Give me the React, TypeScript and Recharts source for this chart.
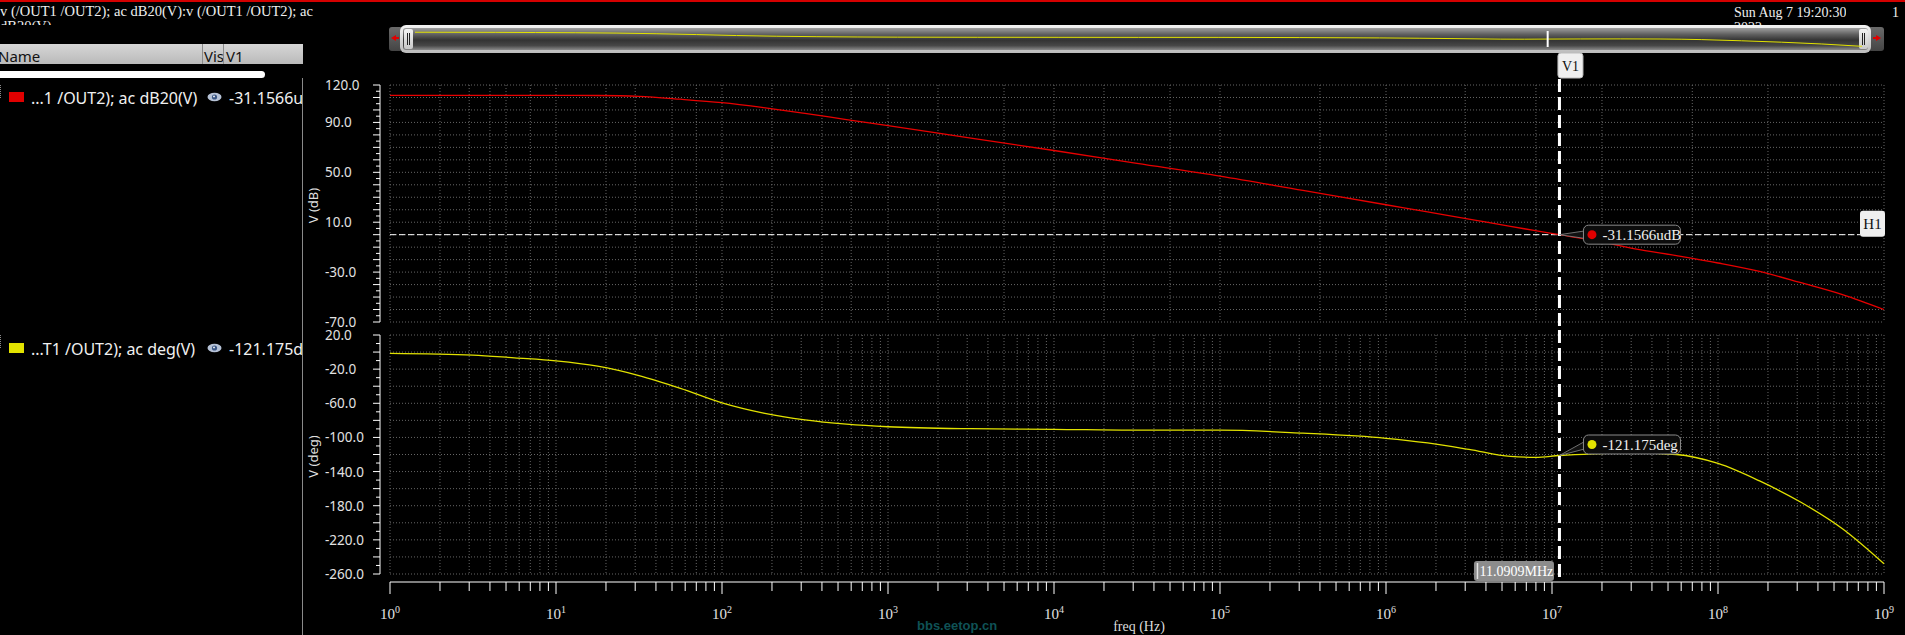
import React from 'react';
import {
  LineChart,
  Line,
  XAxis,
  YAxis,
  CartesianGrid,
  ReferenceLine,
  ReferenceDot,
} from 'recharts';

// sweep points (Hz)
const freqHz = [
  1, 3.16, 5.62, 10, 17.8, 31.6, 56.2, 100, 178, 316, 562, 1e3, 3.16e3, 1e4, 3.16e4, 1e5,
  3.16e5, 1e6, 1.78e6, 3.16e6, 5.62e6, 7.94e6, 1.10909e7, 1.78e7, 3.16e7, 5.62e7, 1e8,
  1.78e8, 3.16e8, 5.62e8, 1e9,
];

// v(/OUT1 /OUT2) ac dB20
const gainDb = [
  111.7, 111.7, 111.7, 111.7, 111.6, 110.9, 108.6, 105.8, 101.8, 97.2, 92.3, 87.5, 77.4, 67.5, 57.2, 47.0,
  35.5, 24.0, 18.2, 12.5, 6.6, 3.3, 0, -4.6, -11.3, -16.8, -22.7,
  -29.5, -38.5, -48.0, -60.0,
];

// v(/OUT1 /OUT2) ac phase
const phaseDeg = [
  -1.5, -3.5, -6.8, -10.3, -16.5, -27.5, -42.5, -59.5, -71.5, -79.5, -84.5, -87.5, -89.8, -90.5, -91.5, -91.5,
  -95, -101, -106.5, -114, -122.3, -123.3, -121.175, -119.3, -118.2, -120, -130.5,
  -151, -176, -207, -248,
];

// axis labels
const dbLabels = [120, 90, 50, 10, -30, -70];
const degLabels = [20, -20, -60, -100, -140, -180, -220, -260];

// cursors
const cursorFreq = 11.0909e6;
const cursorGain = -31.1566e-6;
const cursorPhase = -121.175;
const cursorFreqText = '11.0909MHz';
const cursorGainText = '-31.1566udB';
const cursorPhaseText = '-121.175deg';

const rows = freqHz.map((f, i) => ({ freq: f, gain: gainDb[i], phase: phaseDeg[i] }));

const steps = (lo: number, hi: number, step: number) => {
  const out: number[] = [];
  for (let v = lo; v <= hi + 1e-9; v += step) out.push(v);
  return out;
};

const freqTicks: number[] = [];
for (let k = 0; k < 9; k++) for (let m = 1; m <= 9; m++) freqTicks.push(m * 10 ** k);
freqTicks.push(1e9);

const SERIF = '"Liberation Serif", "DejaVu Serif", serif';
const SANS = '"Noto Sans", "DejaVu Sans", sans-serif';

const AXIS_X = 380;
const LABEL_X = 325;
const X_AXIS_Y = 252; // bottom chart local coords

const makeYTick = (labels: number[], majorStep: number) => (props: any) => {
  const { y, payload } = props;
  const v = payload.value;
  const major = Math.abs(v / majorStep - Math.round(v / majorStep)) < 1e-9;
  return (
    <g>
      <line x1={AXIS_X - (major ? 7 : 4)} x2={AXIS_X} y1={y} y2={y} stroke="#fff" />
      {labels.includes(v) && (
        <text x={LABEL_X} y={y} dominantBaseline="central" fill="#e2e2e2" fontFamily={SANS} fontSize={13.5}>
          {v.toFixed(1)}
        </text>
      )}
    </g>
  );
};

const YAxisDecor = (props: any) => {
  const { viewBox, text } = props;
  const { x, y, width, height } = viewBox;
  const lx = x - 17;
  const ly = y + height / 2 + 2;
  return (
    <g>
      <line x1={x + width - 10} x2={x + width - 10} y1={y} y2={y + height} stroke="#fff" />
      <text
        x={lx}
        y={ly}
        transform={`rotate(-90 ${lx} ${ly})`}
        textAnchor="middle"
        dominantBaseline="central"
        fill="#dedede"
        fontFamily={SANS}
        fontSize={13}
      >
        {text}
      </text>
    </g>
  );
};

const FreqTick = (props: any) => {
  const { x, payload } = props;
  const e = Math.log10(payload.value);
  const decade = Math.abs(e - Math.round(e)) < 1e-6;
  return (
    <g>
      <line x1={x} x2={x} y1={X_AXIS_Y} y2={X_AXIS_Y + (decade ? 12 : 9)} stroke="#fff" />
      {decade && (
        <text x={x} y={X_AXIS_Y + 37} textAnchor="middle" fill="#e0e0e0" fontFamily={SERIF} fontSize={15}>
          10
          <tspan dy={-6} fontSize={10}>
            {Math.round(e)}
          </tspan>
        </text>
      )}
    </g>
  );
};

const FreqAxisDecor = (props: any) => {
  const { x, width } = props.viewBox;
  return (
    <g>
      <line x1={x} x2={x + width} y1={X_AXIS_Y} y2={X_AXIS_Y} stroke="#fff" />
      <text
        x={x + width / 2 + 2}
        y={X_AXIS_Y + 44}
        textAnchor="middle"
        dominantBaseline="central"
        fill="#dcdcdc"
        fontFamily={SERIF}
        fontSize={14}
      >
        freq (Hz)
      </text>
    </g>
  );
};

const V1TopShape = (p: any) => {
  const x = p.x1;
  const top = Math.min(p.y1, p.y2);
  const bottom = Math.max(p.y1, p.y2);
  return (
    <g>
      <line x1={x} x2={x} y1={top - 6} y2={bottom + 13} stroke="#fff" strokeWidth={3} strokeDasharray="13 5" />
      <rect x={x - 1.5} y={top - 32} width={25} height={25} rx={3} fill="#efefef" stroke="#bdbdbd" />
      <text x={x + 11} y={top - 19} textAnchor="middle" dominantBaseline="central" fill="#111" fontFamily={SERIF} fontSize={14}>
        V1
      </text>
    </g>
  );
};

const V1BottomShape = (p: any) => {
  const x = p.x1;
  const top = Math.min(p.y1, p.y2);
  const bottom = Math.max(p.y1, p.y2);
  return (
    <g>
      <line x1={x} x2={x} y1={top - 5} y2={bottom + 7} stroke="#fff" strokeWidth={3} strokeDasharray="13 5" />
      <rect x={x - 85.5} y={bottom - 13} width={80} height={20} rx={3} fill="#8c8c8c" />
      <line x1={x - 82} x2={x - 82} y1={bottom - 11} y2={bottom + 5} stroke="#e4e4e4" strokeWidth={1.5} />
      <text x={x - 80} y={bottom - 2.5} dominantBaseline="central" fill="#fff" fontFamily={SERIF} fontSize={14}>
        {cursorFreqText}
      </text>
    </g>
  );
};

const H1Shape = (p: any) => {
  const left = Math.min(p.x1, p.x2);
  const right = Math.max(p.x1, p.x2);
  const y = p.y1;
  return (
    <g>
      <line x1={left} x2={right - 24} y1={y} y2={y} stroke="#fff" strokeDasharray="6 3" />
      <rect x={right - 24} y={y - 24} width={25} height={26} rx={3} fill="#efefef" />
      <text x={right - 11.5} y={y - 11} textAnchor="middle" dominantBaseline="central" fill="#111" fontFamily={SERIF} fontSize={15}>
        H1
      </text>
    </g>
  );
};

const markerBubble = (color: string, text: string, lift: number) => (p: any) => {
  const { cx, cy } = p;
  const by = cy - lift;
  const bx = cx + 24;
  return (
    <g>
      <path d={`M${cx},${cy} L${bx + 3},${by - 4} L${bx + 3},${by + 4} Z`} fill="#111" stroke="#8a8a8a" strokeWidth={0.8} />
      <rect x={bx} y={by - 9.5} width={97} height={19} rx={5} fill="#0c0c0c" stroke="#8a8a8a" />
      <circle cx={bx + 8.5} cy={by} r={4.5} fill={color} />
      <text x={bx + 19} y={by + 0.5} dominantBaseline="central" fill="#f0f0f0" fontFamily={SERIF} fontSize={15}>
        {text}
      </text>
    </g>
  );
};

const OverviewCursor = (p: any) => (
  <line x1={p.x1} x2={p.x1} y1={-2} y2={20} stroke="#fff" strokeWidth={2} />
);

const Eye = ({ top }: { top: number }) => (
  <svg style={{ position: 'absolute', left: 207, top }} width={15} height={10}>
    <ellipse cx={7.5} cy={5} rx={7} ry={4.2} fill="#b6c2d6" />
    <circle cx={7.5} cy={5} r={2.6} fill="#3a5684" />
    <circle cx={7} cy={4.4} r={0.9} fill="#fff" />
  </svg>
);

const txt = (extra: React.CSSProperties): React.CSSProperties => ({
  position: 'absolute',
  whiteSpace: 'pre',
  ...extra,
});

export default function App() {
  return (
    <div style={{ position: 'absolute', left: 0, top: 0, width: 1905, height: 635, background: '#000', overflow: 'hidden' }}>
      {/* window top edge */}
      <div style={{ position: 'absolute', left: 0, top: 0, width: 1905, height: 2, background: '#d40000' }} />

      {/* title + date (second lines are cut by the window, as on screen) */}
      <div style={txt({ left: 0, top: 4, width: 330, height: 21, overflow: 'hidden', fontFamily: SERIF, fontSize: 14.5, lineHeight: '15px', color: '#eee' })}>
        {'v (/OUT1 /OUT2); ac dB20(V):v (/OUT1 /OUT2); ac\ndB20(V)'}
      </div>
      <div style={txt({ left: 1734, top: 5, height: 21, overflow: 'hidden', fontFamily: SERIF, fontSize: 14, lineHeight: '15px', color: '#eee' })}>
        {'Sun Aug 7 19:20:30\n2022'}
      </div>
      <div style={txt({ left: 1892, top: 5, fontFamily: SERIF, fontSize: 14, lineHeight: '15px', color: '#eee' })}>1</div>

      {/* scroll / overview bar */}
      <div style={{ position: 'absolute', left: 389, top: 27, width: 14, height: 24, background: 'linear-gradient(#6a6a6a, #444)', borderRadius: 3 }} />
      <svg style={{ position: 'absolute', left: 390, top: 33 }} width={10} height={10}>
        <path d="M1,5 L6,2 L6,8 Z" fill="#e00000" />
        <rect x={6} y={4} width={3} height={2} fill="#e00000" />
      </svg>
      <div style={{ position: 'absolute', left: 1868, top: 27, width: 16, height: 24, background: 'linear-gradient(#6a6a6a, #444)', borderRadius: 3 }} />
      <svg style={{ position: 'absolute', left: 1872, top: 33 }} width={10} height={10}>
        <path d="M9,5 L4,2 L4,8 Z" fill="#e00000" />
        <rect x={1} y={4} width={3} height={2} fill="#e00000" />
      </svg>
      <div style={{ position: 'absolute', left: 400, top: 25, width: 1471, height: 28, borderRadius: 6, background: 'linear-gradient(#f4f4f4, #bcbcbc)' }} />
      <div
        style={{
          position: 'absolute',
          left: 403,
          top: 28,
          width: 1465,
          height: 22,
          borderRadius: 3,
          background: 'linear-gradient(#a0a0a0 0%, #5e5e5e 30%, #333 55%, #474747 80%, #8a8a8a 100%)',
        }}
      />
      <div style={{ position: 'absolute', left: 404, top: 29, width: 9, height: 20, borderRadius: 2, background: 'linear-gradient(#f2f2f2, #c8c8c8)' }} />
      <div style={{ position: 'absolute', left: 407, top: 33, width: 1, height: 12, background: '#222' }} />
      <div style={{ position: 'absolute', left: 409, top: 33, width: 1, height: 12, background: '#222' }} />
      <div style={{ position: 'absolute', left: 1859, top: 29, width: 9, height: 20, borderRadius: 2, background: 'linear-gradient(#f2f2f2, #c8c8c8)' }} />
      <div style={{ position: 'absolute', left: 1862, top: 33, width: 1, height: 12, background: '#222' }} />
      <div style={{ position: 'absolute', left: 1864, top: 33, width: 1, height: 12, background: '#222' }} />
      <div style={{ position: 'absolute', left: 415, top: 31 }}>
        <LineChart width={1447} height={16} data={rows} margin={{ top: 0, right: 0, bottom: 0, left: 0 }}>
          <XAxis dataKey="freq" type="number" scale="log" domain={[1, 1e9]} hide />
          <YAxis type="number" domain={[-260, 20]} hide />
          <Line dataKey="phase" type="monotone" stroke="#e2e200" strokeWidth={1} dot={false} isAnimationActive={false} />
          <ReferenceLine x={cursorFreq} shape={OverviewCursor} />
        </LineChart>
      </div>

      {/* browser panel */}
      <div style={{ position: 'absolute', left: 0, top: 44, width: 303, height: 20, background: 'linear-gradient(#d6d6d6, #bababa)', overflow: 'hidden' }}>
        <div style={txt({ left: -2, top: 0, fontFamily: SANS, fontSize: 15, lineHeight: '24px', color: '#111' })}>Name</div>
        <div style={{ position: 'absolute', left: 202, top: 0, width: 1, height: 20, background: '#8a8a8a' }} />
        <div style={{ position: 'absolute', left: 203, top: 0, width: 20, height: 20, overflow: 'hidden' }}>
          <div style={txt({ left: 1, top: 0, fontFamily: SANS, fontSize: 15, lineHeight: '24px', color: '#111' })}>Vis</div>
        </div>
        <div style={{ position: 'absolute', left: 223, top: 0, width: 1, height: 20, background: '#8a8a8a' }} />
        <div style={txt({ left: 226, top: 0, fontFamily: SANS, fontSize: 15, lineHeight: '24px', color: '#111' })}>V1</div>
      </div>
      <div style={{ position: 'absolute', left: 0, top: 71, width: 265, height: 7, background: '#fff', borderRadius: '0 4px 4px 0' }} />

      <div style={{ position: 'absolute', left: 0, top: 85, width: 1, height: 13, borderLeft: '1px dotted #888' }} />
      <div style={{ position: 'absolute', left: 9, top: 92, width: 15, height: 10, background: '#e00000' }} />
      <div style={txt({ left: 31, top: 87, fontFamily: SANS, fontSize: 16, lineHeight: '22px', color: '#f0f0f0' })}>...1 /OUT2); ac dB20(V)</div>
      <Eye top={92} />
      <div style={{ position: 'absolute', left: 229, top: 87, width: 73, height: 24, overflow: 'hidden' }}>
        <div style={txt({ left: 0, top: 0, fontFamily: SANS, fontSize: 16, lineHeight: '22px', color: '#f0f0f0' })}>-31.1566udB</div>
      </div>

      <div style={{ position: 'absolute', left: 0, top: 335, width: 1, height: 13, borderLeft: '1px dotted #888' }} />
      <div style={{ position: 'absolute', left: 9, top: 343, width: 15, height: 10, background: '#e2e200' }} />
      <div style={txt({ left: 31, top: 338, fontFamily: SANS, fontSize: 16, lineHeight: '22px', color: '#f0f0f0' })}>...T1 /OUT2); ac deg(V)</div>
      <Eye top={343} />
      <div style={{ position: 'absolute', left: 229, top: 338, width: 73, height: 24, overflow: 'hidden' }}>
        <div style={txt({ left: 0, top: 0, fontFamily: SANS, fontSize: 16, lineHeight: '22px', color: '#f0f0f0' })}>-121.175deg</div>
      </div>
      <div style={{ position: 'absolute', left: 302, top: 78, width: 1, height: 557, background: '#8a8a8a' }} />

      {/* magnitude strip */}
      <div style={{ position: 'absolute', left: 0, top: 0 }}>
        <LineChart width={1905} height={330} data={rows} margin={{ top: 85, right: 21, bottom: 8, left: 330 }}>
          <CartesianGrid stroke="#666" strokeDasharray="1 2" horizontalValues={steps(-70, 120, 10)} verticalValues={freqTicks} />
          <XAxis dataKey="freq" type="number" scale="log" domain={[1, 1e9]} hide />
          <YAxis
            type="number"
            domain={[-70, 120]}
            ticks={steps(-70, 120, 5)}
            interval={0}
            width={60}
            axisLine={false}
            tickLine={false}
            tick={makeYTick(dbLabels, 10)}
            label={<YAxisDecor text="V (dB)" />}
          />
          <ReferenceLine y={0} shape={H1Shape} />
          <Line dataKey="gain" type="monotone" stroke="#e80000" strokeWidth={1.3} dot={false} isAnimationActive={false} />
          <ReferenceLine x={cursorFreq} shape={V1TopShape} />
          <ReferenceDot x={cursorFreq} y={cursorGain} shape={markerBubble('#e00000', cursorGainText, 0)} />
        </LineChart>
      </div>

      {/* phase strip */}
      <div style={{ position: 'absolute', left: 0, top: 330 }}>
        <LineChart width={1905} height={305} data={rows} margin={{ top: 5, right: 21, bottom: 0, left: 330 }}>
          <CartesianGrid stroke="#666" strokeDasharray="1 2" horizontalValues={steps(-260, 20, 20)} verticalValues={freqTicks} />
          <XAxis
            dataKey="freq"
            type="number"
            scale="log"
            domain={[1, 1e9]}
            height={61}
            ticks={freqTicks}
            interval={0}
            axisLine={false}
            tickLine={false}
            tick={FreqTick}
            label={<FreqAxisDecor />}
          />
          <YAxis
            type="number"
            domain={[-260, 20]}
            ticks={steps(-260, 20, 10)}
            interval={0}
            width={60}
            axisLine={false}
            tickLine={false}
            tick={makeYTick(degLabels, 20)}
            label={<YAxisDecor text="V (deg)" />}
          />
          <Line dataKey="phase" type="monotone" stroke="#e2e200" strokeWidth={1.3} dot={false} isAnimationActive={false} />
          <ReferenceLine x={cursorFreq} shape={V1BottomShape} />
          <ReferenceDot x={cursorFreq} y={cursorPhase} shape={markerBubble('#e2e200', cursorPhaseText, 11)} />
        </LineChart>
      </div>

      <div
        style={txt({
          left: 917,
          top: 617,
          fontFamily: '"Liberation Sans Narrow", "Liberation Sans", sans-serif',
          fontWeight: 'bold',
          fontSize: 13,
          lineHeight: '18px',
          color: '#0f5256',
        })}
      >
        bbs.eetop.cn
      </div>
    </div>
  );
}
